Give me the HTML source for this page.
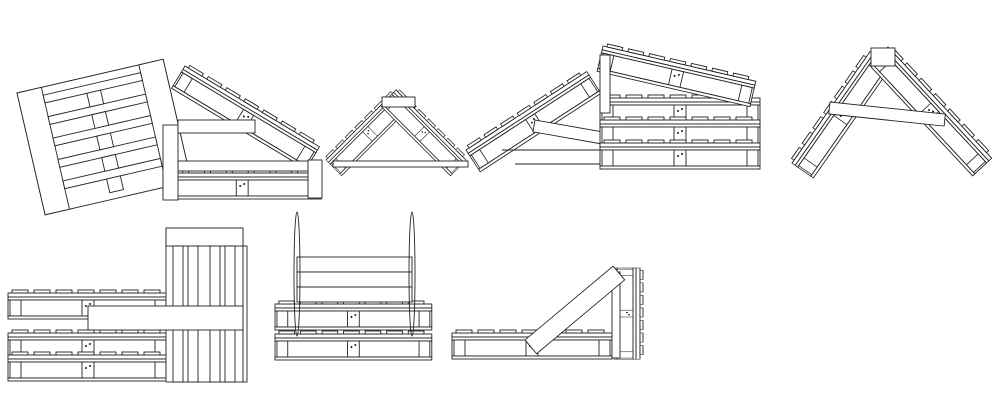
<!DOCTYPE html>
<html><head><style>html,body{margin:0;padding:0;background:#fff}svg{display:block}</style></head>
<body>
<svg width="1000" height="409" viewBox="0 0 1000 409" xmlns="http://www.w3.org/2000/svg" fill="#fff" stroke="#222" stroke-width="0.9">
<defs>
<g id="pal">
<rect x="0" y="0" width="160" height="4"/>
<rect x="4" y="-3" width="16" height="3"/><rect x="26" y="-3" width="16" height="3"/><rect x="48" y="-3" width="16" height="3"/><rect x="70" y="-3" width="16" height="3"/><rect x="92" y="-3" width="16" height="3"/><rect x="114" y="-3" width="16" height="3"/><rect x="136" y="-3" width="16" height="3"/>
<rect x="0" y="4" width="160" height="3"/>
<rect x="0" y="7" width="160" height="16"/>
<rect x="2" y="7" width="11" height="16"/><rect x="74" y="7" width="12" height="16"/><rect x="147" y="7" width="11" height="16"/>
<circle cx="78" cy="13" r="0.6" fill="#222"/><circle cx="82" cy="11" r="0.6" fill="#222"/>
<rect x="0" y="23" width="160" height="3"/>
</g>
<g id="top">
<rect x="0" y="0" width="150" height="125"/>
<rect x="0" y="0" width="25" height="125"/><rect x="125" y="0" width="25" height="125"/>
<rect x="25" y="8" width="100" height="8"/><rect x="25" y="30" width="100" height="8"/><rect x="25" y="52" width="100" height="8"/><rect x="25" y="74" width="100" height="8"/><rect x="25" y="96" width="100" height="8"/>
<rect x="68" y="16" width="14" height="14"/><rect x="68" y="38" width="14" height="14"/><rect x="68" y="60" width="14" height="14"/><rect x="68" y="82" width="14" height="14"/><rect x="68" y="104" width="14" height="14"/>
</g>
</defs>
<use href="#top" transform="translate(17,93) rotate(-13)"/>
<use href="#pal" transform="translate(185,66) rotate(31) scale(0.98,1)"/>
<use href="#pal" transform="translate(163,173) scale(0.99,1)"/>
<rect x="178" y="161" width="130" height="10"/>
<rect x="163" y="125" width="15" height="75"/>
<rect x="308" y="160" width="14" height="38"/>
<rect x="178" y="120" width="77" height="13"/>
<use href="#pal" transform="translate(326,160) rotate(-45) scale(0.62,0.85)"/>
<use href="#pal" transform="translate(396,90) rotate(45) scale(0.62,0.85)"/>
<rect x="382" y="97" width="33" height="10"/>
<rect x="333" y="161" width="135" height="6"/>
<use href="#pal" transform="translate(466,150) rotate(-33) scale(0.9,1)"/>
<line x1="502" y1="150" x2="600" y2="150"/>
<line x1="515" y1="164" x2="600" y2="164"/>
<rect x="535" y="120" width="72" height="12" transform="rotate(10 535 120)"/>
<use href="#pal" transform="translate(600,98)"/>
<use href="#pal" transform="translate(600,120)"/>
<use href="#pal" transform="translate(600,143)"/>
<use href="#pal" transform="translate(603,46) rotate(13) scale(0.98,1)"/>
<rect x="600" y="55" width="10" height="58"/>
<use href="#pal" transform="translate(792,163) rotate(-55) scale(0.85,1)"/>
<use href="#pal" transform="translate(888,47) rotate(47) scale(0.95,1)"/>
<rect x="871" y="48" width="24" height="18"/>
<rect x="830" y="102" width="116" height="12" transform="rotate(6 830 102)"/>
<use href="#pal" transform="translate(8,293)"/>
<use href="#pal" transform="translate(8,333)"/>
<use href="#pal" transform="translate(8,355)"/>
<rect x="166" y="228" width="77" height="154"/>
<rect x="166" y="228" width="77" height="18"/>
<rect x="173" y="246" width="10" height="136"/><rect x="188" y="246" width="10" height="136"/><rect x="210" y="246" width="10" height="136"/><rect x="225" y="246" width="10" height="136"/>
<rect x="243" y="246" width="4" height="136"/>
<rect x="88" y="306" width="155" height="24"/>
<use href="#pal" transform="translate(275,304) scale(0.98,1)"/>
<use href="#pal" transform="translate(275,334) scale(0.98,1)"/>
<rect x="297" y="257" width="115" height="15"/><rect x="297" y="272" width="115" height="15"/><rect x="297" y="287" width="115" height="15"/>
<ellipse cx="297" cy="274" rx="3" ry="62" fill="none"/>
<ellipse cx="412" cy="274" rx="3" ry="62" fill="none"/>
<use href="#pal" transform="translate(452,333)"/>
<use href="#pal" transform="translate(640,268) rotate(90) scale(0.57,1)"/>
<rect x="612" y="272" width="8" height="86"/>
<rect x="525" y="340" width="115" height="18" transform="rotate(-40 525 340)"/>
</svg>
</body></html>
